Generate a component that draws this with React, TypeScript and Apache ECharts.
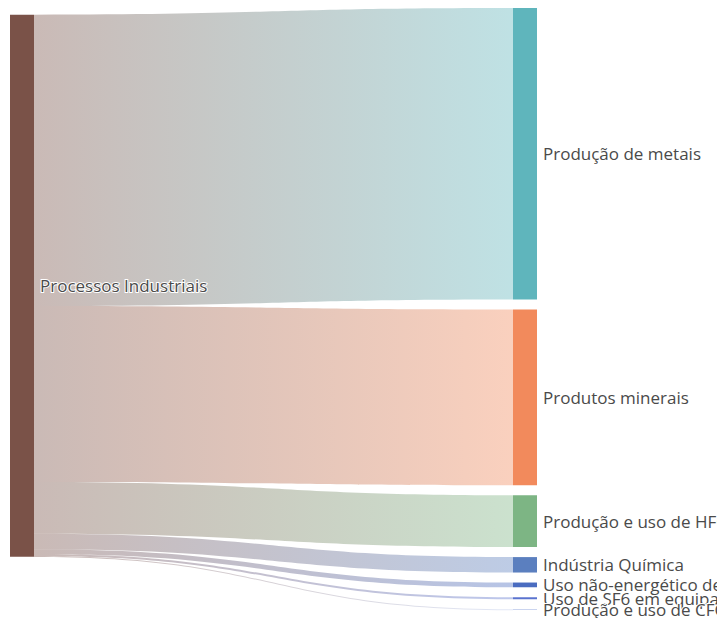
import React, { useEffect, useRef } from "react";
import * as echarts from "echarts";

const sourceName = "Processos Industriais";
const targetNames = [
  "Produção de metais",
  "Produtos minerais",
  "Produção e uso de HFCs",
  "Indústria Química",
  "Uso não-energético de combustíveis e uso de solventes",
  "Uso de SF6 em equipamentos elétricos",
  "Produção e uso de CFCs",
];
const targetValues = [58.5, 35.3, 10.4, 3.1, 0.95, 0.4, 0.15];
const sourceColor = "#7a5248";
const targetColors = ["#5fb5bc", "#f28a5c", "#7db584", "#5b7fbf", "#4a6cc0", "#5a73cf", "#b8c6ea"];

export default function App() {
  const ref = useRef<HTMLDivElement>(null);
  useEffect(() => {
    if (!ref.current) return;
    const chart = echarts.init(ref.current, undefined, { renderer: "svg" });
    const nodes = [
      { name: sourceName, itemStyle: { color: sourceColor } },
      ...targetNames.map((n, i) => ({ name: n, itemStyle: { color: targetColors[i] } })),
    ];
    const links = targetNames.map((n, i) => ({ source: sourceName, target: n, value: targetValues[i] }));
    chart.setOption({
      animation: false,
      series: [
        {
          type: "sankey",
          left: 10,
          right: 180,
          top: 8,
          bottom: 8,
          nodeWidth: 24,
          nodeGap: 10,
          layoutIterations: 32,
          data: nodes,
          links,
          itemStyle: { borderWidth: 0 },
          lineStyle: { color: "gradient", opacity: 0.4, curveness: 0.5 },
          label: {
            position: "right",
            distance: 6,
            fontFamily: "Open Sans",
            fontSize: 17,
            lineHeight: 12,
            color: "#4a4a4a",
            textBorderColor: "#fff",
            textBorderWidth: 2,
          },
          emphasis: { disabled: true },
        },
      ],
    });
    return () => chart.dispose();
  }, []);
  return (
    <div
      ref={ref}
      style={{ position: "fixed", left: 0, top: 0, width: 717, height: 618, background: "#fff", overflow: "hidden" }}
    />
  );
}
